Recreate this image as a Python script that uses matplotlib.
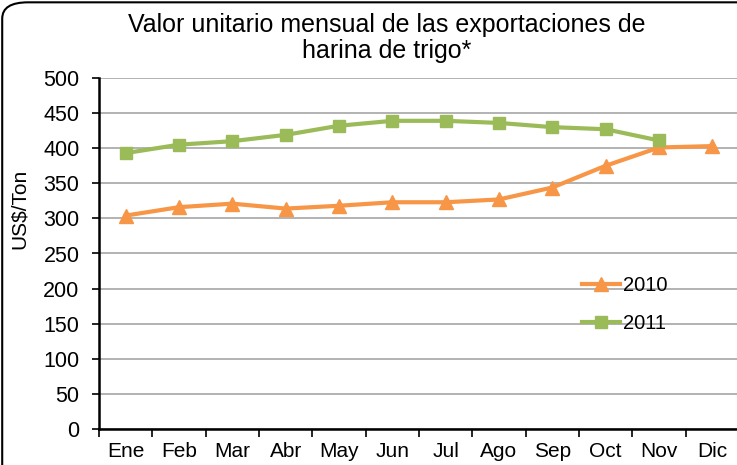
import matplotlib
matplotlib.use("Agg")
import matplotlib.pyplot as plt
from matplotlib.patches import FancyBboxPatch

months = ["Ene", "Feb", "Mar", "Abr", "May", "Jun", "Jul", "Ago", "Sep", "Oct", "Nov", "Dic"]
vals_2010 = [304, 316, 321, 314, 318, 323, 323, 327, 344, 375, 401, 403]
vals_2011 = [393, 405, 410, 419, 432, 439, 439, 436, 430, 427, 411]

plt.rcParams["font.family"] = ["Liberation Sans", "DejaVu Sans"]

W, H = 737, 465
fig = plt.figure(figsize=(W / 100, H / 100), dpi=100)
ax = fig.add_axes([99 / W, 1 - 429 / H, 640 / W, (429 - 78) / H])

x10 = list(range(len(vals_2010)))
x11 = list(range(len(vals_2011)))
ax.plot(x10, vals_2010, color="#F79646", lw=3, marker="^", ms=10.5,
        label="2010", zorder=3)
ax.plot(x11, vals_2011, color="#9BBB59", lw=3, marker="s", ms=8.5,
        label="2011", zorder=4)

ax.set_xlim(-0.5, 11.5)
ax.set_ylim(0, 500)
ax.set_yticks(range(0, 501, 50))
ax.set_xticks(range(12))
ax.set_xticklabels(months)
ax.set_xticks([i - 0.5 for i in range(13)], minor=True)
ax.tick_params(axis="x", which="major", length=0, pad=9, labelsize=15)
ax.tick_params(axis="x", which="minor", length=6, width=1.2, direction="out")
ax.tick_params(axis="y", length=5, width=1.2, labelsize=15.5, pad=9)

ax.grid(axis="y", color="#a6a6a6", lw=1.2)
ax.set_axisbelow(True)
for s in ("top", "right"):
    ax.spines[s].set_visible(False)
for s in ("left", "bottom"):
    ax.spines[s].set_linewidth(1.8)

fig.text(19.5 / W, 1 - 209 / H, "US$/Ton", rotation=90, ha="center", va="center",
         fontsize=15)

fig.text(387 / W, 1 - 38 / H, "Valor unitario mensual de las exportaciones de\nharina de trigo*",
         ha="center", va="center", fontsize=18, linespacing=1.12)

ax.legend(loc="upper left", bbox_to_anchor=(582 / W, 1 - 276 / H),
          bbox_transform=fig.transFigure, frameon=False, borderpad=0,
          borderaxespad=0, fontsize=14.5, handlelength=1.9, handletextpad=0.15,
          labelspacing=0.95)

fig.patches.append(FancyBboxPatch((0.003, -0.2), 1.2, 1.195, transform=fig.transFigure,
                                  boxstyle="round,pad=0,rounding_size=0.035",
                                  fill=False, ec="black", lw=1.5))

fig.savefig("out.png", dpi=100, facecolor="white")
